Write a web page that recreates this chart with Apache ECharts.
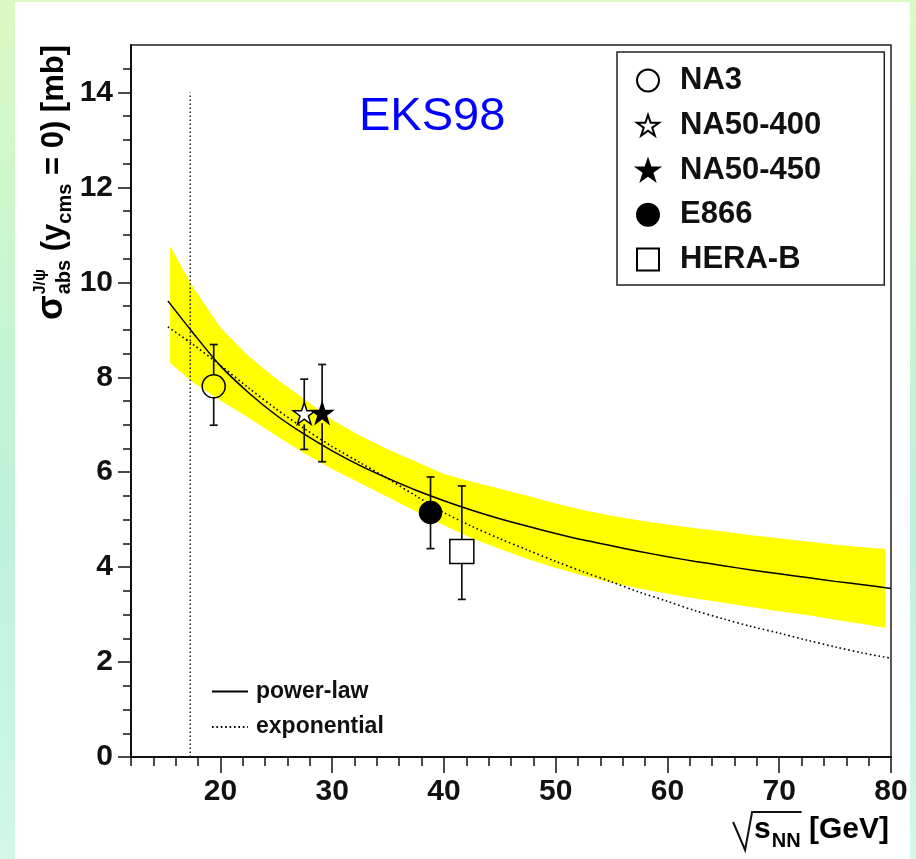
<!DOCTYPE html>
<html>
<head>
<meta charset="utf-8">
<title>J/psi absorption cross section vs sqrt(s_NN)</title>
<script src="https://cdn.jsdelivr.net/npm/echarts@6/dist/echarts.min.js"></script>
<style>
  html, body { margin: 0; padding: 0; background: #ffffff; }
  #chart { width: 916px; height: 859px; }
</style>
</head>
<body>
<div id="chart"></div>
<script>
// ---- data -------------------------------------------------------------
// fitted curves, sampled in sqrt(s_NN) [GeV]
const curveX      = [15.3, 17.5, 20, 22.5, 25, 27.5, 30, 32.5, 35, 37.5, 40, 42.5, 45, 47.5, 50, 52.5, 55, 57.5, 60, 62.5, 65, 67.5, 70, 72.5, 75, 77.5, 80];
const powerLaw    = [9.61, 8.95, 8.24, 7.68, 7.20, 6.80, 6.45, 6.14, 5.87, 5.62, 5.40, 5.20, 5.02, 4.86, 4.71, 4.57, 4.45, 4.33, 4.22, 4.12, 4.03, 3.94, 3.86, 3.78, 3.70, 3.63, 3.55];
const exponential = [9.06, 8.70, 8.25, 7.78, 7.33, 6.92, 6.54, 6.20, 5.86, 5.50, 5.15, 4.86, 4.60, 4.36, 4.12, 3.90, 3.69, 3.47, 3.28, 3.08, 2.91, 2.75, 2.61, 2.46, 2.32, 2.19, 2.08];

// EKS98 uncertainty band of the power-law fit
const bandX     = [15.5, 17.5, 20, 22.5, 25, 27.5, 30, 32.5, 35, 37.5, 40, 42.5, 45, 47.5, 50, 52.5, 55, 57.5, 60, 62.5, 65, 67.5, 70, 72.5, 75, 77.5, 79.5];
const bandUpper = [10.76, 9.92, 9.05, 8.45, 7.97, 7.54, 7.10, 6.77, 6.48, 6.22, 5.96, 5.80, 5.65, 5.50, 5.34, 5.20, 5.08, 4.98, 4.90, 4.82, 4.75, 4.67, 4.61, 4.54, 4.47, 4.42, 4.38];
const bandLower = [8.30, 7.90, 7.51, 7.15, 6.77, 6.40, 6.07, 5.77, 5.47, 5.17, 4.88, 4.61, 4.38, 4.17, 3.98, 3.82, 3.67, 3.55, 3.44, 3.34, 3.25, 3.16, 3.07, 2.99, 2.89, 2.80, 2.72];

// measurements
const experiments = ['NA3', 'NA50-400', 'NA50-450', 'E866', 'HERA-B'];
const sqrtS       = [19.4, 27.5, 29.1, 38.8, 41.6];
const sigmaAbs    = [7.81, 7.24, 7.25, 5.15, 4.33];
const errUp       = [0.88, 0.72, 1.02, 0.75, 1.38];
const errDown     = [0.82, 0.76, 1.03, 0.76, 1.01];

// vertical marker (SPS energy)
const vLineX = 17.3;
const vLineTop = 14;

// axis ticks
const xMajorTicks = [20, 30, 40, 50, 60, 70, 80];
const xMinorTicks = [12, 14, 16, 18, 22, 24, 26, 28, 32, 34, 36, 38, 42, 44, 46, 48, 52, 54, 56, 58, 62, 64, 66, 68, 72, 74, 76, 78];
const yMajorTicks = [0, 2, 4, 6, 8, 10, 12, 14];
const yMinorTicks = [0.5, 1, 1.5, 2.5, 3, 3.5, 4.5, 5, 5.5, 6.5, 7, 7.5, 8.5, 9, 9.5, 10.5, 11, 11.5, 12.5, 13, 13.5, 14.5];

const fitNames = ['power-law', 'exponential'];

// ---- styling ----------------------------------------------------------
const FONT = '"Liberation Sans", Arial, Helvetica, sans-serif';
const STAR = 'path://M50,0 L61.8,35.1 L98.9,35.1 L68.8,56.7 L80.3,91.9 L50,70 L19.7,91.9 L31.2,56.7 L1.1,35.1 L38.2,35.1 Z';
const markerStyle = {
  'NA3':      { symbol: 'circle', size: 23, fill: 'rgba(0,0,0,0)' },
  'NA50-400': { symbol: STAR,     size: 22, fill: '#ffffff' },
  'NA50-450': { symbol: STAR,     size: 21, fill: '#000000' },
  'E866':     { symbol: 'circle', size: 22, fill: '#000000' },
  'HERA-B':   { symbol: 'rect',   size: 24, fill: 'rgba(0,0,0,0)' }
};

const measureCtx = document.createElement('canvas').getContext('2d');
function textWidth(str, size, weight) {
  measureCtx.font = (weight || 'bold') + ' ' + size + 'px ' + FONT;
  return measureCtx.measureText(str).width;
}
// zrender draws text with a 'middle' baseline; shift so that y is the alphabetic baseline
function baseText(str, x, baseline, size, opts) {
  opts = opts || {};
  return {
    type: 'text', x: x, y: baseline - 0.3465 * size, silent: true,
    style: {
      text: str, fill: opts.fill || '#000',
      font: (opts.weight || 'bold') + ' ' + size + 'px ' + FONT,
      textAlign: opts.align || 'left', align: opts.align || 'left',
      textVerticalAlign: 'middle', verticalAlign: 'middle'
    }
  };
}

// ---- y-axis title: sigma^{J/psi}_{abs} (y_{cms} = 0) [mb], rotated ----
const MAIN = 31, SIG = 36, SUP = 16, SUB = 20;
const yTitleChildren = [];
let px = 0;
yTitleChildren.push(baseText('σ', px, 0, SIG));
px += textWidth('σ', SIG) + 1;
yTitleChildren.push(baseText('J/ψ', px, -19, SUP));
yTitleChildren.push(baseText('abs', px, 6, SUB));
px += Math.max(textWidth('J/ψ', SUP), textWidth('abs', SUB));
yTitleChildren.push(baseText(' (y', px, 0, MAIN));
px += textWidth(' (y', MAIN);
yTitleChildren.push(baseText('cms', px, 7, SUB));
px += textWidth('cms', SUB);
yTitleChildren.push(baseText(' = 0) [mb]', px, 0, MAIN));
px += textWidth(' = 0) [mb]', MAIN);
const yTitleEnd = 45;

// ---- x-axis title: sqrt(s_NN) [GeV] -----------------------------------
const xTitleRight = 889, xTitleBase = 840;
const gevW = textWidth(' [GeV]', 30), nnW = textWidth('NN', 20), sW = textWidth('s', 30);
const nnX = xTitleRight - gevW - nnW;
const sX = nnX - sW - 1;
const rootX = sX - 2;

const chart = echarts.init(document.getElementById('chart'), null, { renderer: 'canvas', width: 916, height: 859 });

const axisCommon = {
  type: 'value',
  splitLine: { show: false },
  axisPointer: { show: false }
};

const option = {
  animation: false,
  backgroundColor: new echarts.graphic.LinearGradient(0, 0, 0, 1, [
    { offset: 0, color: '#daf9c4' },
    { offset: 0.35, color: '#c8f5d0' },
    { offset: 0.6, color: '#bdf2db' },
    { offset: 1, color: '#d2f7e7' }
  ]),
  textStyle: { fontFamily: FONT },
  grid: {
    left: 131, top: 45, width: 760, height: 712,
    containLabel: false, outerBoundsMode: 'none',
    show: true, borderColor: '#222', borderWidth: 1.5, backgroundColor: 'rgba(0,0,0,0)'
  },
  xAxis: [
    Object.assign({}, axisCommon, {
      position: 'bottom', min: 12, max: 80,
      axisLine: { show: true, lineStyle: { color: '#111', width: 2 } },
      axisTick: { show: true, customValues: xMajorTicks, length: 16, lineStyle: { color: '#111', width: 1.5 } },
      axisLabel: { customValues: xMajorTicks, margin: 20, fontSize: 30, fontWeight: 'bold', color: '#111', fontFamily: FONT }
    }),
    Object.assign({}, axisCommon, {
      position: 'bottom', min: 12, max: 80,
      axisLine: { show: false },
      axisTick: { show: true, customValues: xMinorTicks, length: 9, lineStyle: { color: '#111', width: 1.5 } },
      axisLabel: { show: false }
    })
  ],
  yAxis: [
    Object.assign({}, axisCommon, {
      position: 'left', min: 0, max: 15,
      axisLine: { show: true, lineStyle: { color: '#111', width: 2 } },
      axisTick: { show: true, customValues: yMajorTicks, length: 13, lineStyle: { color: '#111', width: 1.5 } },
      axisLabel: { customValues: yMajorTicks, margin: 18, fontSize: 30, fontWeight: 'bold', color: '#111', fontFamily: FONT }
    }),
    Object.assign({}, axisCommon, {
      position: 'left', min: 0, max: 15,
      axisLine: { show: false },
      axisTick: { show: true, customValues: yMinorTicks, length: 8, lineStyle: { color: '#111', width: 1.5 } },
      axisLabel: { show: false }
    })
  ],
  legend: [
    {
      data: experiments,
      orient: 'vertical', left: 617, top: 52,
      padding: [13, 63, 10, 19], itemGap: 13.75,
      itemWidth: 22, itemHeight: 22,
      backgroundColor: '#ffffff', borderColor: '#222', borderWidth: 1.5, borderRadius: 0,
      selectedMode: false,
      formatter: function (name) { return '{t|' + name + '}'; },
      textStyle: { rich: { t: { fontSize: 31, fontWeight: 'bold', fontFamily: FONT, color: '#111', padding: [0, 0, 0, 16] } } }
    },
    {
      data: fitNames,
      orient: 'vertical', left: 211, top: 680,
      padding: 0, itemGap: 12.5,
      itemWidth: 36, itemHeight: 14,
      selectedMode: false,
      itemStyle: { opacity: 0, borderWidth: 0 },
      formatter: function (name) { return '{t|' + name + '}'; },
      textStyle: { rich: { t: { fontSize: 23, fontWeight: 'bold', fontFamily: FONT, color: '#111', padding: [0, 0, 0, 3] } } }
    }
  ],
  graphic: { elements: [
    { type: 'rect', z: -10, silent: true, shape: { x: 15, y: 2, width: 895, height: 870 }, style: { fill: '#ffffff' } },
    // EKS98 label
    baseText('EKS98', 359, 133, 47, { weight: 'normal', fill: '#0000ff' }),
    // y-axis title, reading bottom to top
    { type: 'group', x: 65, y: yTitleEnd + px, rotation: Math.PI / 2, silent: true, children: yTitleChildren },
    // x-axis title
    { type: 'polyline', silent: true, shape: { points: [[rootX - 19, xTitleBase - 18], [rootX - 7, xTitleBase + 10], [rootX, xTitleBase - 28], [nnX + nnW + 1, xTitleBase - 28]] }, style: { stroke: '#111', lineWidth: 2, fill: null } },
    baseText('s', sX, xTitleBase, 30),
    baseText('NN', nnX, xTitleBase + 8, 20),
    baseText(' [GeV]', xTitleRight, xTitleBase, 30, { align: 'right' })
  ] },
  series: [
    {
      name: 'band', type: 'custom', z: 1, silent: true, clip: true,
      data: bandX.map(function (x, i) { return [x, bandLower[i], bandUpper[i]]; }),
      encode: { x: 0, y: [1, 2] },
      renderItem: function (params, api) {
        if (params.dataIndex !== 0) return null;
        const pts = [];
        for (let i = 0; i < bandX.length; i++) pts.push(api.coord([bandX[i], bandUpper[i]]));
        for (let i = bandX.length - 1; i >= 0; i--) pts.push(api.coord([bandX[i], bandLower[i]]));
        return { type: 'polygon', shape: { points: pts }, style: { fill: '#ffff00', stroke: null } };
      }
    },
    {
      name: 'sps', type: 'line', z: 2, silent: true, symbol: 'none',
      data: [[vLineX, 0], [vLineX, vLineTop]],
      lineStyle: { color: '#222', width: 1.5, type: [1.5, 2.5] }
    },
    {
      name: 'power-law', type: 'line', z: 3, silent: true, symbol: 'none', smooth: 0.3,
      data: curveX.map(function (x, i) { return [x, powerLaw[i]]; }),
      lineStyle: { color: '#000', width: 1.5 }, itemStyle: { color: '#000' }
    },
    {
      name: 'exponential', type: 'line', z: 3, silent: true, symbol: 'none', smooth: 0.3,
      data: curveX.map(function (x, i) { return [x, exponential[i]]; }),
      lineStyle: { color: '#000', width: 1.6, type: [1.6, 2.8] }, itemStyle: { color: '#000' }
    },
    {
      name: 'errors', type: 'custom', z: 4, silent: true,
      data: sqrtS.map(function (x, i) { return [x, sigmaAbs[i], sigmaAbs[i] - errDown[i], sigmaAbs[i] + errUp[i], i]; }),
      encode: { x: 0, y: [1, 2, 3] },
      renderItem: function (params, api) {
        const x = api.value(0);
        const c = api.coord([x, api.value(1)]);
        const lo = api.coord([x, api.value(2)]);
        const hi = api.coord([x, api.value(3)]);
        const gap = markerStyle[experiments[api.value(4)]].size / 2;
        const cap = 4;
        const st = { stroke: '#111', lineWidth: 1.7 };
        return { type: 'group', children: [
          { type: 'line', shape: { x1: c[0], y1: hi[1], x2: c[0], y2: c[1] - gap }, style: st },
          { type: 'line', shape: { x1: c[0], y1: c[1] + gap, x2: c[0], y2: lo[1] }, style: st },
          { type: 'line', shape: { x1: c[0] - cap, y1: hi[1], x2: c[0] + cap, y2: hi[1] }, style: st },
          { type: 'line', shape: { x1: c[0] - cap, y1: lo[1], x2: c[0] + cap, y2: lo[1] }, style: st }
        ] };
      }
    }
  ].concat(experiments.map(function (name, i) {
    const m = markerStyle[name];
    return {
      name: name, type: 'scatter', z: 5, silent: true,
      symbol: m.symbol, symbolSize: m.size,
      data: [[sqrtS[i], sigmaAbs[i]]],
      itemStyle: { color: m.fill, borderColor: '#000', borderWidth: 1.5, opacity: 1 }
    };
  }))
};

chart.setOption(option);
</script>
</body>
</html>
